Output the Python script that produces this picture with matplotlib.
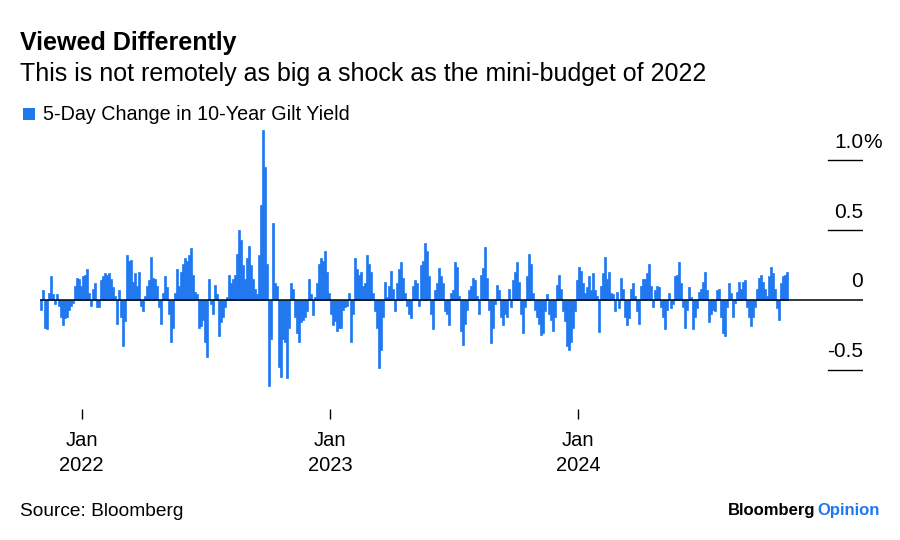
import matplotlib.pyplot as plt
from matplotlib.patches import Rectangle
import pandas as pd

# 5-day change in 10-year gilt yield (percentage points),
# one value roughly every 3 calendar days from Nov 2021 to Nov 2024
start_date = "2021-11-01"
end_date = "2024-11-01"
change_5d = [
    # Nov 2021 - Jan 2022
    -0.07, 0.07, -0.20, -0.21, 0.05, 0.17, 0.04, -0.03, 0.04, -0.04,
    -0.12, -0.18, -0.13, -0.12, -0.07, -0.04, -0.02, 0.10, 0.16, 0.15,
    0.10, 0.17, 0.18, 0.22, 0.05, -0.04, 0.08, 0.12, -0.05, -0.05,
    0.14, 0.17, 0.19, 0.18, 0.19, 0.15,
    # Feb - May 2022
    0.09, 0.03, -0.17, 0.07, -0.12, -0.33, -0.15, 0.32, 0.28, 0.29,
    0.13, 0.19, 0.10, 0.20, -0.04, -0.08, 0.03, 0.10, 0.14, 0.31,
    0.16, 0.15, 0.10, -0.05, -0.17, 0.05, 0.17, 0.09, -0.10, -0.30,
    -0.20, 0.05, 0.22, 0.10, 0.20, 0.26, 0.30, 0.28,
    # May - Sep 2022
    0.32, 0.37, 0.18, 0.06, 0.04, -0.20, -0.19, -0.14, -0.30, -0.41,
    0.15, -0.03, -0.10, 0.11, 0.04, -0.26, -0.16, -0.12, -0.05, 0.02,
    0.18, 0.12, 0.15, 0.18, 0.33, 0.50, 0.43, 0.25, 0.15, 0.30,
    0.39, 0.25, 0.15, 0.08, 0.04, 0.32, 0.68, 1.22,
    # Sep 2022 - Jan 2023
    0.95, 0.26, -0.62, -0.28, 0.55, 0.12, 0.10, -0.48, -0.55, -0.28,
    -0.30, -0.56, -0.20, 0.12, 0.08, -0.12, -0.24, -0.30, -0.16, -0.14,
    -0.12, -0.08, 0.15, 0.04, -0.11, 0.02, 0.12, 0.26, 0.30, 0.28,
    0.35, 0.20, 0.05, -0.10, -0.18, -0.15, -0.22, -0.20,
    # Feb - May 2023
    -0.20, -0.07, -0.05, -0.04, 0.05, -0.30, -0.10, 0.30, 0.22, 0.18,
    0.20, 0.10, 0.12, 0.32, 0.26, 0.20, 0.05, -0.08, -0.20, -0.49,
    -0.36, -0.12, 0.13, 0.02, 0.10, 0.21, 0.08, -0.08, 0.12, 0.22,
    0.27, 0.16, 0.05, -0.04, -0.10, -0.13, 0.10, 0.14,
    # May - Sep 2023
    0.12, -0.04, 0.25, 0.28, 0.41, 0.35, 0.17, -0.10, -0.21, 0.07,
    0.12, 0.23, 0.17, 0.12, -0.08, -0.10, -0.18, 0.05, 0.07, 0.27,
    0.24, 0.03, -0.22, -0.32, -0.17, -0.07, 0.07, 0.10, 0.16, 0.14,
    0.03, -0.10, 0.18, 0.23, 0.38, 0.16, -0.07, -0.31,
    # Sep 2023 - Jan 2024
    -0.20, -0.03, 0.11, 0.07, -0.12, -0.18, -0.10, -0.12, 0.08, -0.05,
    0.14, 0.20, 0.27, 0.13, -0.10, -0.24, -0.05, 0.17, 0.33, 0.26,
    0.05, -0.07, -0.12, -0.17, -0.25, -0.24, -0.08, 0.04, -0.10, -0.14,
    -0.22, -0.12, 0.11, 0.18, 0.08, -0.08, -0.15, -0.33,
    # Jan - Apr 2024
    -0.36, -0.30, -0.20, -0.08, 0.14, 0.24, 0.21, 0.12, 0.05, 0.09,
    0.17, 0.07, 0.19, 0.07, 0.03, -0.23, 0.10, 0.19, 0.31, 0.15,
    0.20, 0.05, 0.04, -0.08, 0.06, -0.06, 0.16, 0.08, -0.12, -0.18,
    -0.13, 0.08, 0.12, 0.03, -0.08, -0.17, 0.10, 0.15,
    # May - Aug 2024
    0.15, 0.19, 0.26, 0.10, -0.05, 0.07, 0.10, 0.09, -0.05, -0.12,
    -0.21, -0.07, 0.05, -0.06, -0.03, 0.17, 0.18, 0.27, 0.12, -0.05,
    -0.20, -0.07, 0.09, 0.02, -0.21, -0.12, -0.06, 0.06, 0.08, 0.13,
    0.20, 0.07, -0.16, -0.10, -0.07, -0.08, 0.07, 0.08,
    # Aug - Nov 2024
    -0.12, -0.24, -0.26, -0.05, 0.12, 0.05, -0.12, -0.02, 0.06, 0.13,
    0.08, 0.13, 0.14, -0.05, -0.12, -0.19, -0.12, -0.05, 0.08, 0.16,
    0.18, 0.13, 0.08, 0.03, 0.17, 0.24, 0.19, 0.08, -0.06, -0.14,
    0.12, 0.17, 0.18, 0.20,
]

y_ticks = [1.0, 0.5, 0, -0.5]
y_labels = ["1.0", "0.5", "0", "-0.5"]
x_ticks = ["2022-01-01", "2023-01-01", "2024-01-01"]
x_labels = ["Jan\n2022", "Jan\n2023", "Jan\n2024"]

BLUE = "#1f78f0"
W, H = 900, 540


def fx(px):
    return px / W


def fy(py):
    return 1 - py / H


plt.rcParams["font.family"] = ["Liberation Sans", "DejaVu Sans"]
fig = plt.figure(figsize=(9, 5.4), dpi=100)

# plot area: data from x=40 px, labels end at x=863 px
ax = fig.add_axes([fx(40), fy(419), fx(863) - fx(40), fy(120) - fy(419)])

dates = pd.date_range(start_date, end_date, periods=len(change_5d))
step = dates[1] - dates[0]
ax.bar(dates, change_5d, width=step, align="edge", color=BLUE,
       edgecolor=BLUE, linewidth=0.5)

span = dates[-1] + step - dates[0]
ax.set_xlim(dates[0], dates[0] + span * (823 / 748))
ax.set_ylim(-0.853, 1.29)

# zero line over full width, short rules for the other levels
ax.axhline(0, color="black", lw=1.1, zorder=3)
for v, lbl in zip(y_ticks, y_labels):
    if v != 0:
        ax.axhline(v, xmin=0.9575, xmax=1, color="black", lw=1.0)
    ax.annotate(lbl, xy=(1, v), xycoords=("axes fraction", "data"),
                xytext=(0, 9), textcoords="offset points",
                ha="right", va="baseline", fontsize=15)
ax.annotate("%", xy=(1, y_ticks[0]), xycoords=("axes fraction", "data"),
            xytext=(0, 9), textcoords="offset points",
            ha="left", va="baseline", fontsize=15)

ax.set_xticks(pd.to_datetime(x_ticks))
ax.set_xticklabels(x_labels, linespacing=1.35)
ax.tick_params(axis="x", direction="in", length=7, width=1, color="black",
               pad=9, labelsize=14.5)
ax.set_yticks([])
for s in ax.spines.values():
    s.set_visible(False)

# titles and legend
fig.text(fx(20), fy(43), "Viewed Differently", fontsize=18,
         fontweight="bold", va="center")
fig.text(fx(20), fy(74), "This is not remotely as big a shock as the mini-budget of 2022",
         fontsize=18, va="center")
fig.add_artist(Rectangle((fx(23), fy(120)), fx(12), 12 / H,
                         transform=fig.transFigure, color=BLUE, lw=0))
fig.text(fx(43), fy(114), "5-Day Change in 10-Year Gilt Yield", fontsize=14.2,
         va="center")

# footer
fig.text(fx(20), fy(511), "Source: Bloomberg", fontsize=13.8, va="center")
fig.text(fx(880), fy(510), "Opinion", fontsize=12, fontweight="bold",
         color=BLUE, ha="right", va="center")
fig.text(fx(815), fy(510), "Bloomberg", fontsize=12, fontweight="bold",
         color="black", ha="right", va="center")

fig.savefig("out.png", dpi=100, facecolor="white")
